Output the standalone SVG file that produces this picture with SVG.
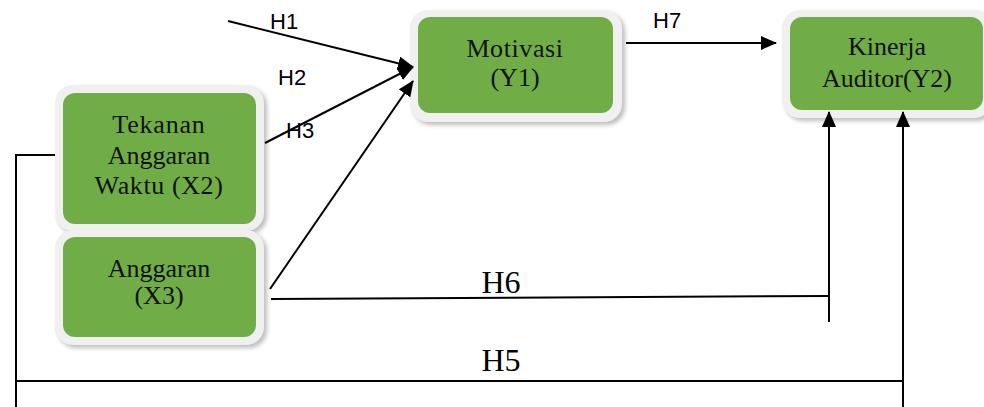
<svg xmlns="http://www.w3.org/2000/svg" width="984" height="407" viewBox="0 0 984 407">
<style>
.outer{fill:#f0f0f0;}
.inner{fill:#70ad47;}
.shadow{fill:#8a8a8a;opacity:0.55;filter:url(#blur);}
.nt{font-family:"Liberation Serif","Times New Roman",serif;font-size:26px;fill:#111;text-anchor:middle;}
.hl{font-family:"Liberation Sans",Arial,sans-serif;font-size:22px;fill:#000;}
.hs{font-family:"Liberation Serif","Times New Roman",serif;font-size:32px;fill:#000;text-anchor:middle;}
.ln{stroke:#000;stroke-width:2;fill:none;}
</style>
<defs>
<filter id="blur" x="-10%" y="-10%" width="120%" height="120%"><feGaussianBlur stdDeviation="2"/></filter>
<marker id="ah" viewBox="0 0 16 14" refX="15" refY="7" markerWidth="16" markerHeight="14" markerUnits="userSpaceOnUse" orient="auto">
<path d="M0,0 L16,7 L0,14 Z" fill="#000"/>
</marker>
</defs>
<rect width="984" height="407" fill="#fff"/>

<g id="node-motivasi">
<rect class="shadow" x="413" y="13" width="212" height="112" rx="18"/>
<rect class="outer" x="410" y="10" width="212" height="112" rx="18"/>
<rect class="inner" x="418" y="17" width="195" height="96" rx="12"/>
<text class="nt" x="515" y="57" letter-spacing="0.6">Motivasi</text>
<text class="nt" x="515" y="86">(Y1)</text>
</g>

<g id="node-kinerja">
<rect class="shadow" x="785" y="13" width="210" height="108" rx="18"/>
<rect class="outer" x="782" y="10" width="210" height="108" rx="18"/>
<rect class="inner" x="790" y="17" width="193" height="93" rx="12"/>
<text class="nt" x="887" y="55">Kinerja</text>
<text class="nt" x="887" y="87">Auditor(Y2)</text>
</g>

<g id="node-tekanan">
<rect class="shadow" x="58" y="88" width="209" height="146" rx="18"/>
<rect class="outer" x="55" y="85" width="209" height="146" rx="18"/>
<rect class="inner" x="63" y="93" width="193" height="131" rx="12"/>
<text class="nt" x="159" y="133" letter-spacing="0.8">Tekanan</text>
<text class="nt" x="159" y="164">Anggaran</text>
<text class="nt" x="159" y="194" letter-spacing="0.6">Waktu (X2)</text>
</g>

<g id="node-anggaran">
<rect class="shadow" x="58" y="233" width="209" height="115" rx="18"/>
<rect class="outer" x="55" y="230" width="209" height="115" rx="18"/>
<rect class="inner" x="63" y="237" width="193" height="100" rx="12"/>
<text class="nt" x="159" y="277">Anggaran</text>
<text class="nt" x="159" y="304">(X3)</text>
</g>

<g id="connectors">
<line class="ln" x1="228" y1="21" x2="413" y2="67" marker-end="url(#ah)"/>
<line class="ln" x1="265" y1="143" x2="413" y2="67" marker-end="url(#ah)"/>
<line class="ln" x1="270" y1="289" x2="413" y2="81" marker-end="url(#ah)"/>
<line class="ln" x1="626" y1="43" x2="776" y2="43" marker-end="url(#ah)"/>
<polyline class="ln" points="271,299 829,296"/>
<line class="ln" x1="829" y1="322" x2="829" y2="112" marker-end="url(#ah)"/>
<polyline class="ln" points="55,155 16,155 16,407"/>
<line class="ln" x1="16" y1="381" x2="903" y2="381"/>
<line class="ln" x1="903" y1="407" x2="903" y2="112" marker-end="url(#ah)"/>
<text class="hl" x="270" y="29">H1</text>
<text class="hl" x="278" y="85">H2</text>
<text class="hl" x="286" y="138">H3</text>
<text class="hl" x="653" y="28">H7</text>
<text class="hs" x="501" y="293">H6</text>
<text class="hs" x="501" y="371">H5</text>
</g>
</svg>
